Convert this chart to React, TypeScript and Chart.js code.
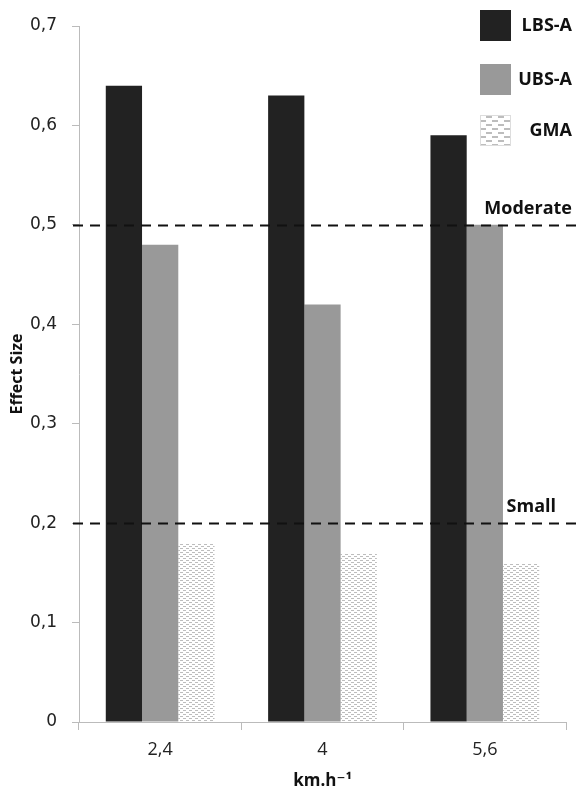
import React, { useEffect, useRef } from 'react';
import { Chart, registerables } from 'chart.js';

Chart.register(...registerables);

const categories = ['2,4', '4', '5,6'];
const seriesNames = ['LBS-A', 'UBS-A', 'GMA'];
const lbsA = [0.64, 0.63, 0.59];
const ubsA = [0.48, 0.42, 0.5];
const gma = [0.18, 0.17, 0.16];
const yTickLabels = ['0', '0,1', '0,2', '0,3', '0,4', '0,5', '0,6', '0,7'];
const thresholdValues = [0.5, 0.2];
const thresholdLabels = ['Moderate', 'Small'];

const FONT = '"Open Sans", "DejaVu Sans", sans-serif';
const YFONT = '"DejaVu Sans", sans-serif';

function makePattern(scale: number): CanvasPattern | string {
  const c = document.createElement('canvas');
  const w = 6 * scale;
  const h = 4 * scale;
  c.width = w;
  c.height = h;
  const ctx = c.getContext('2d');
  if (!ctx) return '#eee';
  ctx.fillStyle = '#ffffff';
  ctx.fillRect(0, 0, w, h);
  ctx.fillStyle = '#bdbdbd';
  ctx.fillRect(0, 0, 3 * scale, scale);
  ctx.fillRect(3 * scale, 2 * scale, 3 * scale, scale);
  const p = ctx.createPattern(c, 'repeat');
  return p || '#eee';
}

export default function App() {
  const ref = useRef<HTMLCanvasElement | null>(null);

  useEffect(() => {
    if (!ref.current) return;
    const pattern = makePattern(1);
    const legendPattern = makePattern(2);

    const overlay = {
      id: 'overlay',
      afterDatasetsDraw(chart: any) {
        const ctx = chart.ctx as CanvasRenderingContext2D;
        const y = chart.scales.y;
        ctx.save();
        thresholdValues.forEach((v, i) => {
          const py = Math.round(y.getPixelForValue(v)) + 0.5;
          ctx.beginPath();
          ctx.setLineDash([10, 7]);
          ctx.lineWidth = 2;
          ctx.strokeStyle = '#111111';
          ctx.moveTo(73, py);
          ctx.lineTo(579, py);
          ctx.stroke();
          ctx.setLineDash([]);
          ctx.fillStyle = '#111111';
          ctx.font = `bold 18px ${FONT}`;
          ctx.textAlign = 'right';
          ctx.textBaseline = 'alphabetic';
          const right = i === 0 ? 572 : 556;
          ctx.fillText(thresholdLabels[i], right, py - 12);
        });
        const fills: any[] = ['#222222', '#999999', legendPattern];
        const boxY = [10, 64, 115];
        seriesNames.forEach((name, i) => {
          ctx.fillStyle = fills[i];
          ctx.fillRect(480, boxY[i], 31, 31);
          if (i === 2) {
            ctx.strokeStyle = '#dddddd';
            ctx.lineWidth = 1;
            ctx.strokeRect(480.5, boxY[i] + 0.5, 30, 30);
          }
          ctx.fillStyle = '#111111';
          ctx.font = `bold 18px ${FONT}`;
          ctx.textAlign = 'right';
          ctx.textBaseline = 'middle';
          ctx.fillText(name, 572, boxY[i] + 16);
        });
        ctx.restore();
      },
    };

    const chart = new Chart(ref.current, {
      type: 'bar',
      data: {
        labels: categories,
        datasets: [
          { label: seriesNames[0], data: lbsA, backgroundColor: '#222222', borderWidth: 0 },
          { label: seriesNames[1], data: ubsA, backgroundColor: '#999999', borderWidth: 0 },
          { label: seriesNames[2], data: gma, backgroundColor: pattern as any, borderWidth: 0 },
        ],
      },
      options: {
        animation: false,
        responsive: false,
        maintainAspectRatio: false,
        layout: { padding: { top: 26, right: 13, left: 8, bottom: 0 } },
        datasets: { bar: { categoryPercentage: 0.67, barPercentage: 1 } },
        plugins: { legend: { display: false }, tooltip: { enabled: false } },
        scales: {
          x: {
            offset: true,
            grid: {
              offset: true,
              drawOnChartArea: false,
              drawTicks: true,
              tickLength: 8,
              color: '#bbbbbb',
            },
            border: { color: '#bbbbbb' },
            ticks: {
              color: '#222222',
              font: { family: FONT, size: 18 },
              padding: 9,
            },
            title: {
              display: true,
              text: 'km.h⁻¹',
              color: '#111111',
              font: { family: FONT, size: 17, weight: 'bold' },
              padding: { top: 0, bottom: 0 },
            },
            afterFit: (s: any) => {
              s.height = 69;
            },
          },
          y: {
            min: 0,
            max: 0.7,
            grid: {
              drawOnChartArea: false,
              drawTicks: true,
              tickLength: 7,
              color: '#bbbbbb',
            },
            border: { color: '#bbbbbb' },
            ticks: {
              stepSize: 0.1,
              color: '#222222',
              font: { family: YFONT, size: 17 },
              padding: 15,
              callback: (v: any) => yTickLabels[Math.round(Number(v) * 10)] ?? '',
            },
            title: {
              display: true,
              text: 'Effect Size',
              color: '#111111',
              font: { family: FONT, size: 16, weight: 'bold' },
              padding: { top: 0, bottom: 0 },
            },
            afterFit: (s: any) => {
              s.width = 71;
            },
          },
        },
      },
      plugins: [overlay],
    });
    return () => chart.destroy();
  }, []);

  return (
    <div style={{ position: 'fixed', left: 0, top: 0, width: 579, height: 791, background: '#fff' }}>
      <canvas ref={ref} width={579} height={791} style={{ width: 579, height: 791, display: 'block' }} />
    </div>
  );
}
